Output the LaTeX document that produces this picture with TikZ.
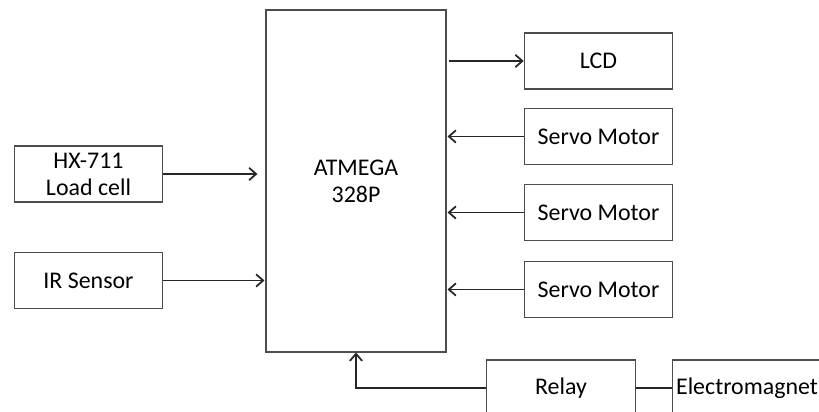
\documentclass[tikz,border=0pt]{standalone}
\usepackage{fontspec}
\setmainfont{Carlito}
\usetikzlibrary{arrows.meta,positioning,calc}

\begin{document}
\begin{tikzpicture}[
  font=\fontsize{13.6}{15.3}\selectfont,
  >={Straight Barb[length=4pt,width=7pt]},
  block/.style={draw=black!70, line width=0.6pt, align=center,
    minimum width=2.97cm, minimum height=1.12cm, inner sep=1pt},
  mcu/.style={block, minimum width=3.6cm, minimum height=6.84cm},
  flow/.style={->, line width=1pt, draw=black!85},
  wire/.style={line width=1pt, draw=black!85}
]
  \useasboundingbox (0,0) rectangle (16.38,8.24);
  \clip (0,0) rectangle (16.38,8.24);

  \node[mcu] (atmega) at (7.12,4.62) {ATMEGA\\328P};

  \node[block] (hx) at (1.77,4.76) {HX-711\\Load cell};
  \node[block] (ir) at (1.77,2.63) {IR Sensor};

  \node[block] (lcd) at (11.97,7.02) {LCD};
  \node[block] (servoa) at (11.97,5.51) {Servo Motor};
  \node[block] (servob) at (11.97,3.99) {Servo Motor};
  \node[block] (servoc) at (11.97,2.45) {Servo Motor};

  \node[block] (relay) at (11.22,0.48) {Relay};
  \node[block] (magnet) at (14.94,0.48) {Electromagnet};

  \draw[flow] (atmega.east |- lcd.west) ++(0.04,0) -- (lcd.west);
  \draw[flow, shorten >=0.16cm] (hx.east) -- (hx.east -| atmega.west);
  \draw[flow, shorten >=0.02cm] (ir.east) -- (ir.east -| atmega.west);
  \draw[flow, shorten >=0.02cm] (servoa.west) -- (servoa.west -| atmega.east);
  \draw[flow, shorten >=0.02cm] (servob.west) -- (servob.west -| atmega.east);
  \draw[flow, shorten >=0.02cm] (servoc.west) -- (servoc.west -| atmega.east);

  \draw[flow] (relay.west) -| (atmega.south);
  \draw[wire] (relay.east) -- (magnet.west);
\end{tikzpicture}
\end{document}
